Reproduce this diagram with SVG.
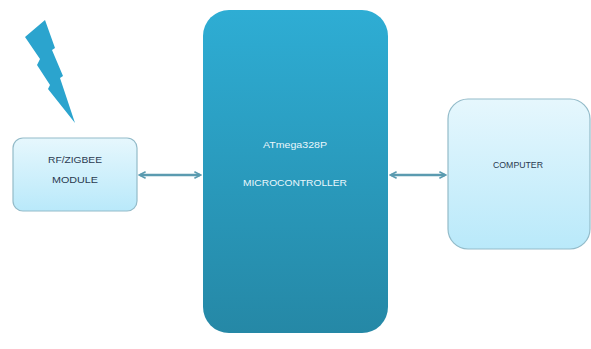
<svg xmlns="http://www.w3.org/2000/svg" width="591" height="349" viewBox="0 0 591 349">
  <style>
    .lbl { font-family: "Liberation Sans", Arial, sans-serif; font-size: 9px; fill: #2A3A50; text-anchor: middle; dominant-baseline: middle; }
    .lblw { font-family: "Liberation Sans", Arial, sans-serif; font-size: 9.5px; fill: #EAF7FC; text-anchor: middle; dominant-baseline: middle; }
    .light { fill: url(#lightGrad); stroke: #93BBC9; stroke-width: 1.2; }
    .conn { stroke: #5B9BB0; stroke-width: 2.5; fill: none; marker-start: url(#arrS); marker-end: url(#arrE); }
  </style>
  <defs>
    <linearGradient id="lightGrad" x1="0" y1="0" x2="0" y2="1">
      <stop offset="0" stop-color="#E6F7FD"/>
      <stop offset="1" stop-color="#B9E9FA"/>
    </linearGradient>
    <linearGradient id="mcuGrad" x1="0" y1="0" x2="0" y2="1">
      <stop offset="0" stop-color="#2EADD4"/>
      <stop offset="1" stop-color="#2588A6"/>
    </linearGradient>
    <marker id="arrE" viewBox="0 0 10 10" refX="8" refY="5" markerWidth="3.2" markerHeight="3.2" orient="auto" markerUnits="strokeWidth">
      <path d="M1,1 L9,5 L1,9" fill="none" stroke="#5B9BB0" stroke-width="2"/>
    </marker>
    <marker id="arrS" viewBox="0 0 10 10" refX="2" refY="5" markerWidth="3.2" markerHeight="3.2" orient="auto" markerUnits="strokeWidth">
      <path d="M9,1 L1,5 L9,9" fill="none" stroke="#5B9BB0" stroke-width="2"/>
    </marker>
  </defs>
  <rect width="591" height="349" fill="#FFFFFF"/>

  <g id="lightning">
    <polygon points="25,37 45,20 55,48 52,50 63,76 60,78 75,123 48,89 50,85 37,65 40,59" fill="#2BA4CE"/>
  </g>

  <g id="rf-module">
    <rect class="light" x="13" y="138" width="124" height="73" rx="10" ry="10"/>
    <text class="lbl" x="75" y="161" textLength="54" lengthAdjust="spacingAndGlyphs">RF/ZIGBEE</text>
    <text class="lbl" x="75" y="181" textLength="46" lengthAdjust="spacingAndGlyphs">MODULE</text>
  </g>

  <g id="microcontroller">
    <rect x="203" y="10" width="185" height="323" rx="26" ry="26" fill="url(#mcuGrad)"/>
    <text class="lblw" x="295" y="145" textLength="64" lengthAdjust="spacingAndGlyphs">ATmega328P</text>
    <text class="lblw" x="295" y="183" textLength="104" lengthAdjust="spacingAndGlyphs">MICROCONTROLLER</text>
  </g>

  <g id="computer">
    <rect class="light" x="448" y="99" width="142" height="150" rx="20" ry="20"/>
    <text class="lbl" x="518" y="166" textLength="50" lengthAdjust="spacingAndGlyphs">COMPUTER</text>
  </g>

  <g id="connectors">
    <line class="conn" x1="140" y1="175" x2="200" y2="175"/>
    <line class="conn" x1="391" y1="175" x2="445" y2="175"/>
  </g>
</svg>
